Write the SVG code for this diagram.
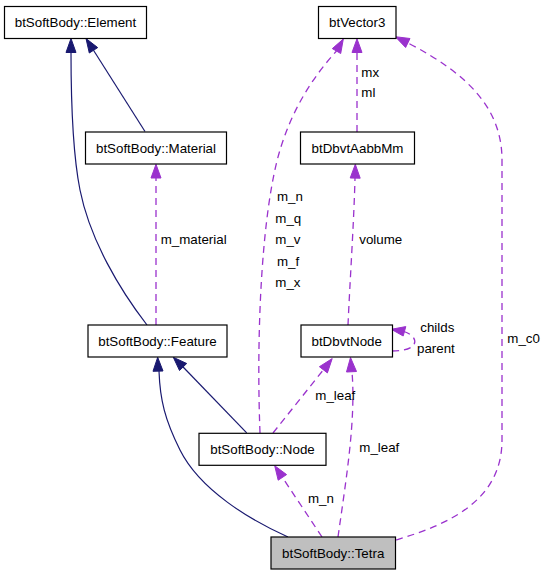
<svg xmlns="http://www.w3.org/2000/svg" width="545" height="576" viewBox="0 0 545 576">
<style>
text{font-family:"Liberation Sans",Arial,sans-serif;font-size:13.33px;fill:#000}
.box{fill:#fff;stroke:#000;stroke-width:1.2}
.cur{fill:#bfbfbf;stroke:#000;stroke-width:1.2}
.nt{text-anchor:middle}
.inh{fill:none;stroke:#191970;stroke-width:1.2}
.inhA{fill:#191970;stroke:#191970;stroke-width:1}
.use{fill:none;stroke:#9a32cd;stroke-width:1.3;stroke-dasharray:7,5}
.useA{fill:#9a32cd;stroke:#9a32cd;stroke-width:1}
</style>
<rect width="545" height="576" fill="#fff"/>
<g id="connectors">
  <!-- Feature -> Element -->
  <path class="inh" d="M147,325 C120,290 90,240 80,190 C72,150 71,100 71,52"/>
  <polygon class="inhA" points="71,38.5 66,52.5 76,52.5"/>
  <!-- Material -> Element -->
  <path class="inh" d="M145,131.5 L93.5,50.3"/>
  <polygon class="inhA" points="86,38.5 97.7,47.6 89.3,53"/>
  <!-- Node -> Feature -->
  <path class="inh" d="M246.7,432.8 L183.1,367"/>
  <polygon class="inhA" points="173.3,357.3 186.7,363.5 179.5,370.5"/>
  <!-- Tetra -> Feature -->
  <path class="inh" d="M288,537 C250,520 200,490 180,450 C165,420 160,400 159,371"/>
  <polygon class="inhA" points="157.7,357.3 153,371.3 163,371"/>
  <!-- Feature -> Material m_material -->
  <path class="use" d="M156,325 L156,178"/>
  <polygon class="useA" points="156,164.3 151,178 161,178"/>
  <!-- btDbvtAabbMm -> btVector3 mx ml -->
  <path class="use" d="M357,132 L357,52.5"/>
  <polygon class="useA" points="357,38.8 352,52.5 362,52.5"/>
  <!-- Node -> btVector3 m_n m_q ... -->
  <path class="use" d="M260,433 C256,330 262,210 280,150 C292,110 312,78 336.5,51"/>
  <polygon class="useA" points="343.3,39 340.7,53.5 332.3,48.6"/>
  <!-- btDbvtNode -> btDbvtAabbMm volume -->
  <path class="use" d="M348,325 C350,280 354,220 355,178"/>
  <polygon class="useA" points="355.3,164.3 350.2,178 360.2,178.2"/>
  <!-- btDbvtNode self loop childs parent -->
  <path class="use" d="M392,351 C400,351 408,350 413,346 C418,340 412,334 404,331.5"/>
  <polygon class="useA" points="391.3,329.3 405.8,326.6 403.2,336"/>
  <!-- Node -> btDbvtNode m_leaf -->
  <path class="use" d="M273,433 L323.4,369.8"/>
  <polygon class="useA" points="332.2,358.6 327.4,372.9 319.4,366.7"/>
  <!-- Tetra -> btDbvtNode m_leaf -->
  <path class="use" d="M338,537 C346,480 356,420 352,372"/>
  <polygon class="useA" points="350.5,357.5 346.5,372 356.5,371.5"/>
  <!-- Tetra -> Node m_n -->
  <path class="use" d="M322,537 L282.4,477.4"/>
  <polygon class="useA" points="274.7,465.7 286.6,474.6 278.2,480.2"/>
  <!-- Tetra -> btVector3 m_c0 -->
  <path class="use" d="M396,540 C450,524 502,500 502,440 L502,160 C502,110 470,75 408,43"/>
  <polygon class="useA" points="395.3,36.7 410,38.5 405.6,47.5"/>
</g>
<g id="labels">
  <text x="361.3" y="76.5">mx</text>
  <text x="361.3" y="97">ml</text>
  <text x="277" y="201">m_n</text>
  <text x="275.3" y="222.5">m_q</text>
  <text x="275.3" y="244">m_v</text>
  <text x="277" y="265.5">m_f</text>
  <text x="275.3" y="287">m_x</text>
  <text x="160.7" y="244">m_material</text>
  <text x="359.3" y="244">volume</text>
  <text x="420.3" y="332">childs</text>
  <text x="417" y="353">parent</text>
  <text x="507.3" y="343">m_c0</text>
  <text x="315.3" y="399.5">m_leaf</text>
  <text x="359.3" y="451.5">m_leaf</text>
  <text x="308" y="503">m_n</text>
</g>
<g id="element">
  <rect class="box" x="4.5" y="6.5" width="142" height="32"/>
  <text class="nt" x="75.5" y="27">btSoftBody::Element</text>
</g>
<g id="btvector3">
  <rect class="box" x="318.5" y="6.5" width="77.5" height="32"/>
  <text class="nt" x="357.2" y="27">btVector3</text>
</g>
<g id="material">
  <rect class="box" x="85.5" y="132" width="141" height="32"/>
  <text class="nt" x="156" y="152.5">btSoftBody::Material</text>
</g>
<g id="btdbvtaabbmm">
  <rect class="box" x="300.5" y="132" width="114" height="32"/>
  <text class="nt" x="357.5" y="152.5">btDbvtAabbMm</text>
</g>
<g id="feature">
  <rect class="box" x="88" y="325" width="139" height="32"/>
  <text class="nt" x="157.5" y="345.5">btSoftBody::Feature</text>
</g>
<g id="btdbvtnode">
  <rect class="box" x="301" y="325" width="91.5" height="32"/>
  <text class="nt" x="346.7" y="345.5">btDbvtNode</text>
</g>
<g id="node">
  <rect class="box" x="199" y="433.3" width="127" height="32"/>
  <text class="nt" x="262.5" y="453.8">btSoftBody::Node</text>
</g>
<g id="tetra">
  <rect class="cur" x="271" y="537" width="124.5" height="32"/>
  <text class="nt" x="333.2" y="557.5">btSoftBody::Tetra</text>
</g>
</svg>
